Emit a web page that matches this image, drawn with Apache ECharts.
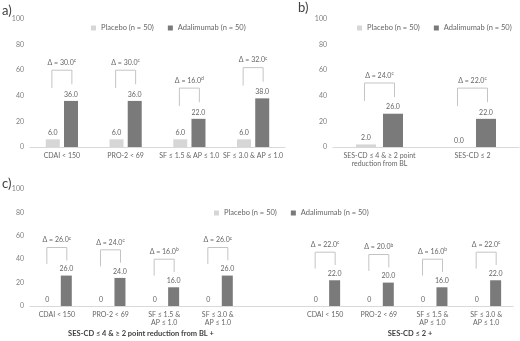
<!DOCTYPE html>
<html>
<head>
<meta charset="utf-8">
<script src="https://cdn.jsdelivr.net/npm/echarts@6/dist/echarts.min.js"></script>
<style>
  html, body { margin: 0; padding: 0; background: #fff; }
  #chart { width: 520px; height: 341px; }
</style>
</head>
<body>
<div id="chart"></div>
<script>
var seriesNames = ['Placebo (n = 50)', 'Adalimumab (n = 50)'];

var catsA = ['CDAI < 150', 'PRO-2 < 69', 'SF ≤ 1.5 & AP ≤ 1.0', 'SF ≤ 3.0 & AP ≤ 1.0'];
var placeboA = [6, 6, 6, 6];
var adaA = [36, 36, 22, 38];
var deltaA = ['30.0', '30.0', '16.0', '32.0'];
var supA = ['c', 'c', 'd', 'c'];

var catsB = ['SES-CD ≤ 4 & ≥ 2 point\nreduction from BL', 'SES-CD ≤ 2'];
var placeboB = [2, 0];
var adaB = [26, 22];
var deltaB = ['24.0', '22.0'];
var supB = ['c', 'c'];

var catsC = ['CDAI < 150', 'PRO-2 < 69', 'SF ≤ 1.5 &\nAP ≤ 1.0', 'SF ≤ 3.0 &\nAP ≤ 1.0', '',
             'CDAI < 150', 'PRO-2 < 69', 'SF ≤ 1.5 &\nAP ≤ 1.0', 'SF ≤ 3.0 &\nAP ≤ 1.0'];
var placeboC = [0, 0, 0, 0, null, 0, 0, 0, 0];
var adaC = [26, 24, 16, 26, null, 22, 20, 16, 22];
var deltaC = ['26.0', '24.0', '16.0', '26.0', null, '22.0', '20.0', '16.0', '22.0'];
var supC = ['c', 'c', 'b', 'c', null, 'c', 'b', 'b', 'c'];
var groupsC = ['SES-CD ≤ 4 & ≥ 2 point reduction from BL +', 'SES-CD ≤ 2 +'];

var FONT = 'Lato';
var TXT = '#666666';
var LIGHT = '#d6d6d6';
var DARK = '#7a7a7a';

function fmt1(v) { return v.value.toFixed(1); }
function fmtC(v) { return v.value === 0 ? '0' : v.value.toFixed(1); }

// bracket data built from the adalimumab values
function bracketData(ada) {
    var out = [];
    for (var i = 0; i < ada.length; i++) {
        if (ada[i] != null) out.push([i, ada[i]]);
    }
    return out;
}

function bracket(off, deltas, sups) {
    return function (params, api) {
        var i = api.value(0), v = api.value(1);
        var top = api.coord([i, v + 24]);
        var rb = api.coord([i, v + 13]);
        var lb = api.coord([i, v + 10]);
        var lx = top[0] - off, rx = top[0] + off;
        return {
            type: 'group',
            children: [
                {
                    type: 'polyline',
                    shape: { points: [[lx, lb[1]], [lx, top[1]], [rx, top[1]], [rx, rb[1]]] },
                    style: { stroke: '#c4c4c4', fill: null, lineWidth: 1 }
                },
                {
                    type: 'text',
                    x: top[0], y: top[1] - 3,
                    style: {
                        text: '{m|Δ = ' + deltas[i] + '}{s|' + sups[i] + '}',
                        align: 'center', verticalAlign: 'bottom',
                        rich: {
                            m: { fontSize: 7, fill: TXT, fontFamily: FONT, lineHeight: 9 },
                            s: { fontSize: 5, fill: TXT, fontFamily: FONT, lineHeight: 9, verticalAlign: 'top' }
                        }
                    }
                }
            ]
        };
    };
}

function xAx(idx, cats) {
    return {
        type: 'category', gridIndex: idx, data: cats,
        axisTick: { show: false },
        axisLine: { lineStyle: { color: '#d9d9d9' } },
        axisLabel: { color: TXT, fontSize: 7, fontFamily: FONT, margin: 5, interval: 0, lineHeight: 8 }
    };
}
function yAx(idx) {
    return {
        type: 'value', gridIndex: idx, min: 0, max: 100, interval: 20,
        splitLine: { show: false },
        axisLine: { show: false }, axisTick: { show: false },
        axisLabel: { color: '#7f7f7f', fontSize: 7, fontFamily: FONT, margin: 6 }
    };
}
function bars(idx, pl, ad, bw, gap, fmt) {
    var lbl = { show: true, position: 'top', distance: 3, color: TXT, fontSize: 7, fontFamily: FONT, formatter: fmt };
    return [
        { name: seriesNames[0], type: 'bar', xAxisIndex: idx, yAxisIndex: idx, data: pl,
          barWidth: bw, barGap: gap, itemStyle: { color: LIGHT }, label: lbl },
        { name: seriesNames[1], type: 'bar', xAxisIndex: idx, yAxisIndex: idx, data: ad,
          barWidth: bw, barGap: gap, itemStyle: { color: DARK }, label: lbl }
    ];
}
function legend(left, top) {
    return {
        left: left, top: top, itemWidth: 5, itemHeight: 5, itemGap: 14, icon: 'rect',
        textStyle: { color: TXT, fontSize: 7.5, fontFamily: FONT },
        data: seriesNames
    };
}

var chart = echarts.init(document.getElementById('chart'));
var option = {
    animation: false,
    textStyle: { fontFamily: FONT },
    legend: [legend(86, 19), legend(352, 19), legend(209, 204)],
    grid: [
        { left: 30, top: 19, width: 255, height: 128 },
        { left: 333, top: 19, width: 186, height: 128 },
        { left: 30, top: 189, width: 483, height: 117 }
    ],
    xAxis: [xAx(0, catsA), xAx(1, catsB), xAx(2, catsC)],
    yAxis: [yAx(0), yAx(1), yAx(2)],
    series: [].concat(
        bars(0, placeboA, adaA, 14, '30%', fmt1),
        bars(1, placeboB, adaB, 20, '35%', fmt1),
        bars(2, placeboC, adaC, 11, '72%', fmtC),
        [
            { type: 'custom', xAxisIndex: 0, yAxisIndex: 0, data: bracketData(adaA), renderItem: bracket(10, deltaA, supA), silent: true },
            { type: 'custom', xAxisIndex: 1, yAxisIndex: 1, data: bracketData(adaB), renderItem: bracket(15, deltaB, supB), silent: true },
            { type: 'custom', xAxisIndex: 2, yAxisIndex: 2, data: bracketData(adaC), renderItem: bracket(10, deltaC, supC), silent: true }
        ]
    ),
    graphic: [
        { type: 'text', left: 2, top: 4, style: { text: 'a)', fontSize: 13, fill: '#404040', fontFamily: FONT } },
        { type: 'text', left: 298, top: 1, style: { text: 'b)', fontSize: 13, fill: '#404040', fontFamily: FONT } },
        { type: 'text', left: 2, top: 177, style: { text: 'c)', fontSize: 13, fill: '#404040', fontFamily: FONT } },
        { type: 'text', x: 141, y: 334, style: { text: groupsC[0], fontSize: 7.5, fontWeight: 'bold', fill: '#404040', fontFamily: FONT, align: 'center', verticalAlign: 'middle' } },
        { type: 'text', x: 410, y: 334, style: { text: groupsC[1], fontSize: 7.5, fontWeight: 'bold', fill: '#404040', fontFamily: FONT, align: 'center', verticalAlign: 'middle' } }
    ]
};
chart.setOption(option);
</script>
</body>
</html>
